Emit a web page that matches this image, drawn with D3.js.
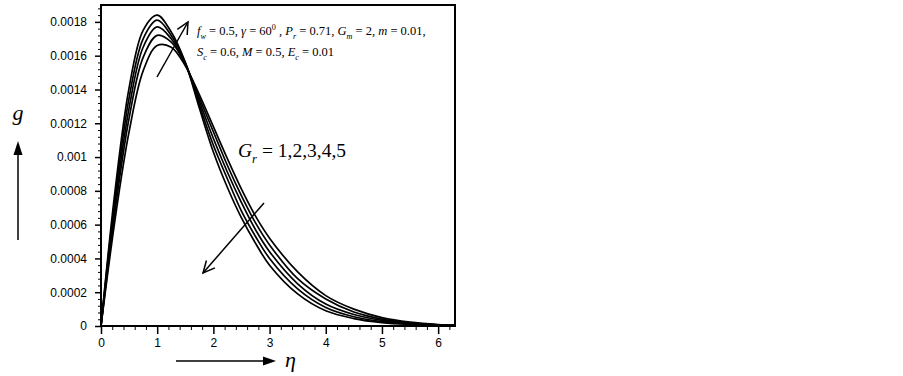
<!DOCTYPE html>
<html>
<head>
<meta charset="utf-8">
<title>g vs eta</title>
<script src="https://cdn.jsdelivr.net/npm/d3@7"></script>
<style>
body{margin:0;background:#fff;}
svg{display:block;}
.tick text{font-family:"Liberation Sans",Arial,sans-serif;font-size:12px;fill:#000;}
.math{font-family:"Liberation Serif","Times New Roman",serif;fill:#000;}
</style>
</head>
<body>
<div id="chart"></div>
<script>
var W = 903, H = 376;

// data
var eta = [0,0.25,0.5,0.75,1,1.25,1.5,1.75,2,2.25,2.5,2.75,3,3.5,4,4.5,5,5.5,6,6.3];
var gr1 = [0,0.00063,0.00115,0.00151,0.00166,0.00165,0.00154,0.00137,0.00118,0.00099,0.00081,0.00065,0.00052,0.00032,0.00018,0.000100,0.000050,0.000023,0.000009,0.000005];
var gr2 = [0,0.00068,0.00123,0.00159,0.00172,0.00168,0.00155,0.00135,0.00115,0.00095,0.00077,0.00061,0.00048,0.00028,0.00016,0.000083,0.000041,0.000019,0.000007,0.000004];
var gr3 = [0,0.00072,0.00129,0.00165,0.00177,0.00170,0.00155,0.00133,0.00111,0.00091,0.00073,0.00057,0.00044,0.00025,0.00013,0.000068,0.000033,0.000015,0.000006,0.000003];
var gr4 = [0,0.00076,0.00135,0.00170,0.00181,0.00172,0.00156,0.00131,0.00107,0.00087,0.00068,0.00053,0.00040,0.00022,0.00011,0.000055,0.000026,0.000012,0.000005,0.000003];
var gr5 = [0,0.00080,0.00141,0.00175,0.00184,0.00174,0.00156,0.00129,0.00103,0.00082,0.00064,0.00049,0.00036,0.00019,0.00009,0.000044,0.000020,0.000009,0.000004,0.000002];
var series = [gr1,gr2,gr3,gr4,gr5];

var xTicks = [0,1,2,3,4,5,6];
var xTickLabels = ["0","1","2","3","4","5","6"];
var yTicks = [0,0.0002,0.0004,0.0006,0.0008,0.001,0.0012,0.0014,0.0016,0.0018];
var yTickLabels = ["0","0.0002","0.0004","0.0006","0.0008","0.001","0.0012","0.0014","0.0016","0.0018"];

var pLeft=101, pRight=455, pTop=5, pBottom=326;

var svg = d3.select('#chart').append('svg')
  .attr('width',W).attr('height',H);
svg.append('rect').attr('width',W).attr('height',H).attr('fill','#fff');

var x = d3.scaleLinear().domain([0,6.3]).range([pLeft,pRight]);
var y = d3.scaleLinear().domain([0,0.0019]).range([pBottom,pTop]);

// minor ticks
var xMinor = d3.range(0,6.3,0.2).filter(function(d){ return Math.abs(d-Math.round(d))>1e-6; });
var yMinor = d3.range(0,0.00191,0.00004).filter(function(d){ return Math.abs(d/0.0002-Math.round(d/0.0002))>1e-6; });

svg.append('g').attr('transform','translate(0,'+pBottom+')')
  .call(d3.axisBottom(x).tickValues(xMinor).tickSize(4).tickFormat(''))
  .call(function(g){ g.select('.domain').remove(); });
svg.append('g').attr('transform','translate('+pLeft+',0)')
  .call(d3.axisLeft(y).tickValues(yMinor).tickSize(3).tickFormat(''))
  .call(function(g){ g.select('.domain').remove(); });

var xAxis = svg.append('g').attr('transform','translate(0,'+pBottom+')')
  .call(d3.axisBottom(x).tickValues(xTicks).tickSize(8).tickPadding(4)
    .tickFormat(function(d,i){ return xTickLabels[i]; }));
xAxis.select('.domain').remove();
xAxis.selectAll('line').attr('stroke-width',1.5);

var yAxis = svg.append('g').attr('transform','translate('+pLeft+',0)')
  .call(d3.axisLeft(y).tickValues(yTicks).tickSize(6).tickPadding(8)
    .tickFormat(function(d,i){ return yTickLabels[i]; }));
yAxis.select('.domain').remove();
yAxis.selectAll('line').attr('stroke-width',1.5);

// curves
var line = d3.line()
  .x(function(d,i){ return x(eta[i]); })
  .y(function(d){ return y(d); })
  .curve(d3.curveCatmullRom.alpha(0.5));

svg.append('g').selectAll('path').data(series).enter().append('path')
  .attr('d',line).attr('fill','none').attr('stroke','#000').attr('stroke-width',1.7);

// frame
svg.append('rect').attr('x',pLeft).attr('y',pTop)
  .attr('width',pRight-pLeft).attr('height',pBottom-pTop)
  .attr('fill','none').attr('stroke','#000').attr('stroke-width',2);

// rich text helper
function rich(g, px, py, size, parts){
  var t = g.append('text').attr('class','math').attr('x',px).attr('y',py).attr('font-size',size);
  var shift = 0;
  parts.forEach(function(p){
    var s = t.append('tspan').text(p.t);
    var want = p.sub ? size*0.3 : (p.sup ? -size*0.4 : 0);
    s.attr('dy', want-shift);
    shift = want;
    if(p.sub||p.sup) s.attr('font-size',size*0.65);
    if(p.i) s.attr('font-style','italic');
  });
  return t;
}

rich(svg,197,35,12.5,[
  {t:'f',i:1},{t:'w',i:1,sub:1},{t:' = 0.5, '},{t:'\u03b3',i:1},{t:' = 60'},{t:'0',sup:1},
  {t:' , '},{t:'P',i:1},{t:'r',i:1,sub:1},{t:' = 0.71, '},{t:'G',i:1},{t:'m',i:1,sub:1},
  {t:' = 2, '},{t:'m',i:1},{t:' = 0.01,'}
]);
rich(svg,197,56,12.5,[
  {t:'S',i:1},{t:'c',i:1,sub:1},{t:' = 0.6, '},{t:'M',i:1},{t:' = 0.5, '},
  {t:'E',i:1},{t:'c',i:1,sub:1},{t:' = 0.01'}
]);
rich(svg,238,157,19.5,[
  {t:'G',i:1},{t:'r',i:1,sub:1},{t:' = 1,2,3,4,5'}
]);

// arrows
function openArrow(x1,y1,x2,y2){
  svg.append('line').attr('x1',x1).attr('y1',y1).attr('x2',x2).attr('y2',y2)
    .attr('stroke','#000').attr('stroke-width',1.5);
  var a = Math.atan2(y2-y1,x2-x1), L = 13, s = 0.45;
  svg.append('path')
    .attr('d','M'+(x2-L*Math.cos(a-s))+','+(y2-L*Math.sin(a-s))+'L'+x2+','+y2+
      'L'+(x2-L*Math.cos(a+s))+','+(y2-L*Math.sin(a+s)))
    .attr('fill','none').attr('stroke','#000').attr('stroke-width',1.5);
}
openArrow(157,77,188,22);
openArrow(264,203,203,273);

// axis title arrows
svg.append('line').attr('x1',18).attr('y1',240).attr('x2',18).attr('y2',152)
  .attr('stroke','#000').attr('stroke-width',1.5);
svg.append('path').attr('d','M18,141L13.5,155L22.5,155Z').attr('fill','#000');
svg.append('text').attr('class','math').attr('x',18).attr('y',120)
  .attr('text-anchor','middle').attr('font-size',22).attr('font-style','italic').text('g');

svg.append('line').attr('x1',176).attr('y1',361).attr('x2',265).attr('y2',361)
  .attr('stroke','#000').attr('stroke-width',1.5);
svg.append('path').attr('d','M276,361L263,356.5L263,365.5Z').attr('fill','#000');
svg.append('text').attr('class','math').attr('x',285).attr('y',367)
  .attr('font-size',22).attr('font-style','italic').text('\u03b7');
</script>
</body>
</html>
